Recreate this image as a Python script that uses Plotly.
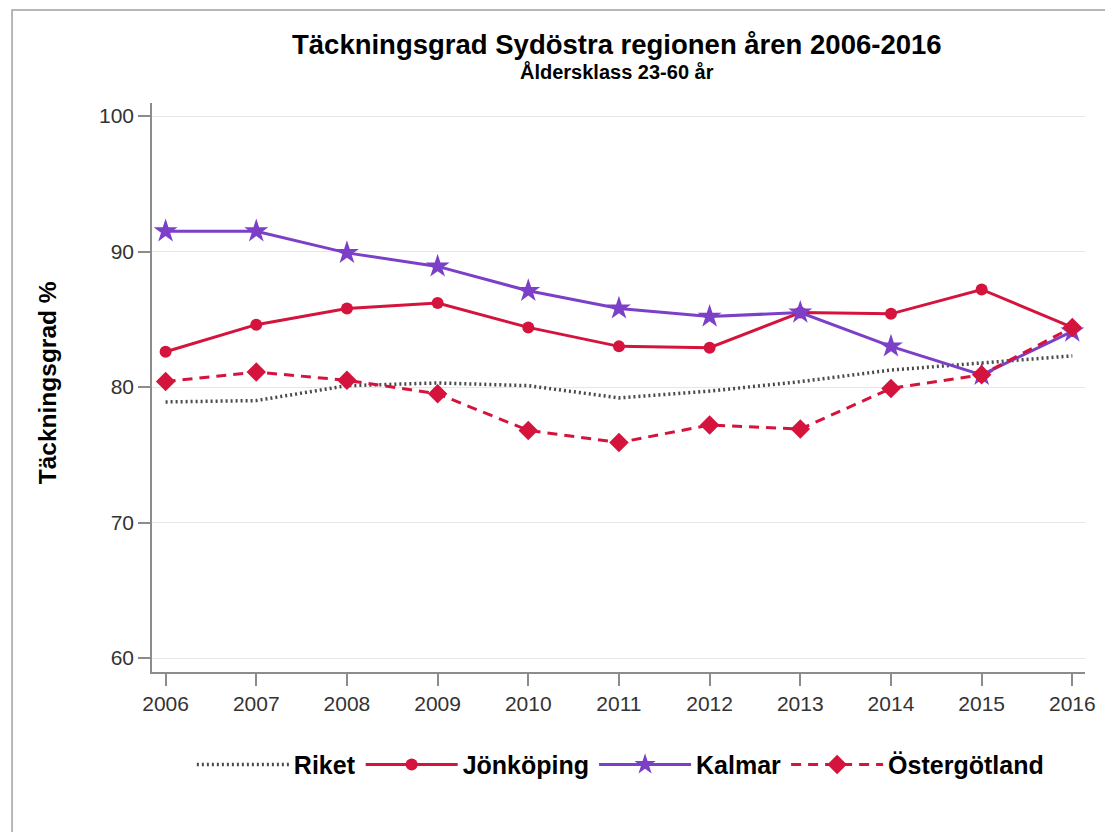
import plotly.graph_objects as go

years = [2006, 2007, 2008, 2009, 2010, 2011, 2012, 2013, 2014, 2015, 2016]
riket = [78.9, 79.0, 80.1, 80.3, 80.1, 79.2, 79.7, 80.4, 81.25, 81.8, 82.3]
jonkoping = [82.6, 84.6, 85.8, 86.2, 84.4, 83.0, 82.9, 85.5, 85.4, 87.2, 84.4]
kalmar = [91.5, 91.5, 89.9, 88.9, 87.1, 85.8, 85.2, 85.5, 83.0, 80.9, 84.1]
ostergotland = [80.4, 81.1, 80.5, 79.5, 76.8, 75.9, 77.2, 76.9, 79.9, 80.9, 84.4]
y_ticks = [60, 70, 80, 90, 100]

RED = "#D4143C"
PURPLE = "#7B3FC8"
SANS = "Liberation Sans, Arial"

fig = go.Figure()
fig.add_trace(go.Scatter(x=years, y=riket, name="<b>Riket</b>", mode="lines",
                         line=dict(color="#4a4a4a", width=3.5, dash="2px,3px")))
fig.add_trace(go.Scatter(x=years, y=jonkoping, name="<b>Jönköping</b>", mode="lines+markers",
                         line=dict(color=RED, width=3),
                         marker=dict(symbol="circle", size=12, color=RED)))
fig.add_trace(go.Scatter(x=years, y=kalmar, name="<b>Kalmar</b>", mode="lines+markers",
                         line=dict(color=PURPLE, width=3),
                         marker=dict(symbol="star", size=18, color=PURPLE)))
fig.add_trace(go.Scatter(x=years, y=ostergotland, name="<b>Östergötland</b>", mode="lines+markers",
                         line=dict(color=RED, width=3, dash="10px,7px"),
                         marker=dict(symbol="diamond", size=15, color=RED)))

fig.update_layout(
    width=1105, height=824,
    margin=dict(l=144, r=28, t=95, b=160),
    paper_bgcolor="white", plot_bgcolor="white",
    showlegend=True,
    legend=dict(orientation="h", x=0.502, xanchor="center", y=-0.163, yanchor="middle",
                font=dict(family=SANS, size=25, color="black"),
                itemwidth=92, tracegroupgap=0),
    xaxis=dict(range=[2005.85, 2016.14], tickmode="array", tickvals=years,
               ticktext=[str(y) for y in years],
               showgrid=False, zeroline=False,
               showline=True, linecolor="#8c8c8c", linewidth=1.5,
               ticks="outside", ticklen=12, tickcolor="#8c8c8c", tickwidth=1.5,
               tickfont=dict(family=SANS, size=21, color="#333333")),
    yaxis=dict(range=[58.97, 100.96], tickmode="array", tickvals=y_ticks,
               showgrid=True, gridcolor="#e6e6e6", gridwidth=1.2, zeroline=False,
               showline=True, linecolor="#8c8c8c", linewidth=1.5,
               ticks="outside", ticklen=12, tickcolor="#8c8c8c", tickwidth=1.5,
               tickfont=dict(family=SANS, size=21, color="#333333")),
)

fig.add_annotation(text="<b>Täckningsgrad Sydöstra regionen åren 2006-2016</b>",
                   xref="paper", yref="paper", x=0.498, y=1.102, showarrow=False,
                   xanchor="center", yanchor="middle",
                   font=dict(family=SANS, size=27.5, color="black"))
fig.add_annotation(text="<b>Åldersklass 23-60 år</b>",
                   xref="paper", yref="paper", x=0.498, y=1.0545, showarrow=False,
                   xanchor="center", yanchor="middle",
                   font=dict(family=SANS, size=20, color="black"))
fig.add_annotation(text="<b>Täckningsgrad %</b>",
                   xref="paper", yref="paper", x=-0.1125, y=0.5075, showarrow=False,
                   xanchor="center", yanchor="middle", textangle=-90,
                   font=dict(family=SANS, size=24.5, color="black"))

fig.add_shape(type="rect", xref="paper", yref="paper",
              x0=-0.150, x1=1.0236, y0=-0.30, y1=1.1634,
              line=dict(color="#a0a0a0", width=1.5), fillcolor="rgba(0,0,0,0)", layer="below")

fig.write_html("out.html")
